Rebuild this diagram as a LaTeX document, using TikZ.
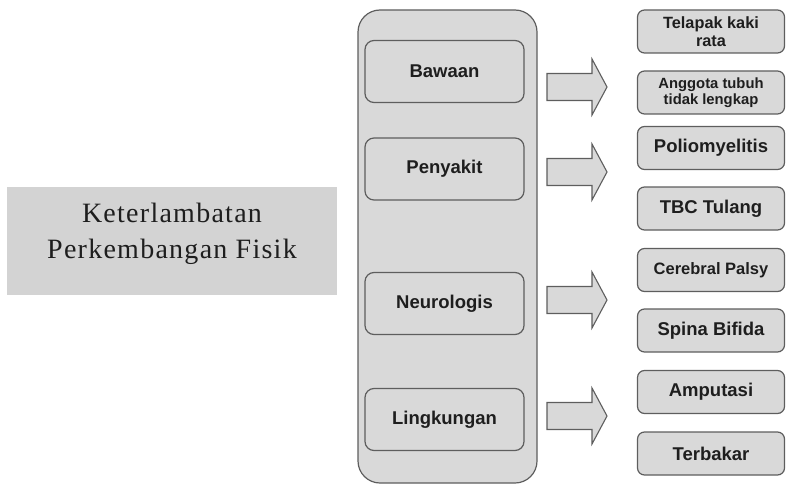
\documentclass[tikz,border=0pt]{standalone}
\usepackage{fontspec}
\setmainfont{Liberation Serif}
\setsansfont{Liberation Sans}
\newfontfamily\titlefont[LetterSpace=4.5]{Liberation Serif}
\definecolor{boxfill}{HTML}{D9D9D9}
\definecolor{titlefill}{HTML}{D3D3D3}
\definecolor{edge}{HTML}{5E5E5E}
\definecolor{ink}{HTML}{1E1E1E}
\begin{document}
\begin{tikzpicture}[x=1pt,y=-1pt,
  titlebox/.style={fill=titlefill, draw=none, minimum width=330pt, minimum height=108pt,
    align=center, inner sep=0pt, text=ink, font=\titlefont\fontsize{28}{36}\selectfont},
  groupbox/.style={fill=boxfill, draw=edge, line width=1.2pt, rounded corners=22pt,
    minimum width=179pt, minimum height=473pt, inner sep=0pt},
  catbox/.style={fill=boxfill, draw=edge, line width=1.2pt, rounded corners=9pt,
    minimum width=159pt, minimum height=62pt, inner sep=0pt, text=ink,
    font=\sffamily\bfseries\fontsize{18.5}{22}\selectfont},
  itembox/.style={fill=boxfill, draw=edge, line width=1.2pt, rounded corners=7pt,
    minimum width=147pt, minimum height=43pt, inner sep=0pt, text=ink, align=center,
    font=\sffamily\bfseries\fontsize{18.5}{22}\selectfont},
  arr/.style={fill=boxfill, draw=edge, line width=1.1pt},
  fatarrow/.pic={\draw[arr] (-30,-13.5) -- (15,-13.5) -- (15,-28) -- (30,0) -- (15,28) -- (15,13.5) -- (-30,13.5) -- cycle;}
]
\useasboundingbox (0,0) rectangle (786,484);

\fill[titlefill] (7,187) rectangle (337,295);
\node[titlebox, fill=none, minimum height=0pt] (title) at (172,234) {Keterlambatan\\Perkembangan Fisik};

\node[groupbox] (grp) at (447.5,246.5) {};

\node[catbox] (bawaan) at (444.5,71.5) {Bawaan};
\node[catbox] (penyakit) at (444.5,169) {Penyakit};
\node[catbox] (neuro) at (444.5,303.5) {Neurologis};
\node[catbox] (lingk) at (444.5,419.5) {Lingkungan};

\coordinate (a1) at (577,87);
\coordinate (a2) at (577,172);
\coordinate (a3) at (577,300);
\coordinate (a4) at (577,416);
\pic at (a1) {fatarrow};
\pic at (a2) {fatarrow};
\pic at (a3) {fatarrow};
\pic at (a4) {fatarrow};

\node[itembox, font=\sffamily\bfseries\fontsize{16.3}{18}\selectfont] (telapak) at (711,31.5) {Telapak kaki\\rata};
\node[itembox, font=\sffamily\bfseries\fontsize{14.8}{16.5}\selectfont] (anggota) at (711,92.5) {Anggota tubuh\\tidak lengkap};
\node[itembox] (polio) at (711,148) {Poliomyelitis};
\node[itembox] (tbc) at (711,208.5) {TBC Tulang};
\node[itembox, font=\sffamily\bfseries\fontsize{16.5}{20}\selectfont] (cp) at (711,270) {Cerebral Palsy};
\node[itembox] (spina) at (711,330.5) {Spina Bifida};
\node[itembox] (amput) at (711,392) {Amputasi};
\node[itembox] (terbakar) at (711,453.5) {Terbakar};
\end{tikzpicture}
\end{document}
